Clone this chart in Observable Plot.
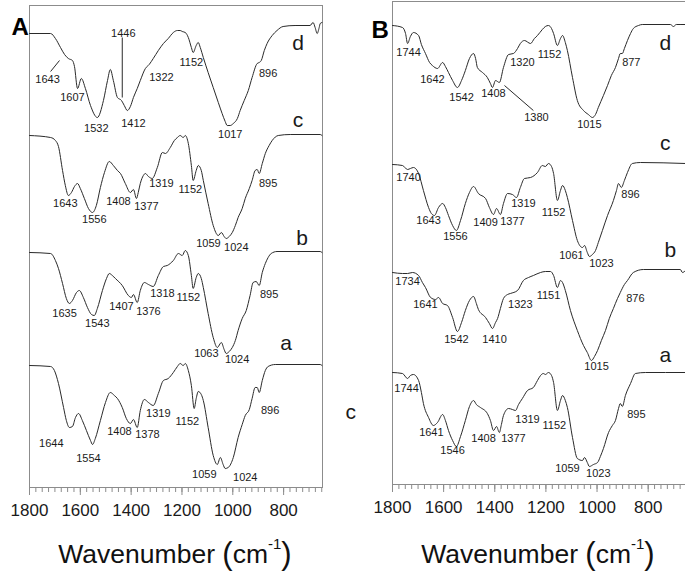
<!DOCTYPE html>
<html><head><meta charset="utf-8">
<script src="https://cdn.jsdelivr.net/npm/d3@7"></script>
<script src="https://cdn.jsdelivr.net/npm/@observablehq/plot@0.6"></script>
<style>
body{margin:0;background:#fff}
#wrap{position:relative;width:685px;height:572px;overflow:hidden;font-family:"Liberation Sans",Arial,sans-serif;color:#111;background:#fff}
.panel{position:absolute;top:0}
.xt{position:absolute;top:540px;font-size:26.5px;line-height:26.5px;text-align:center;white-space:nowrap}
.xt .p{font-size:31px;line-height:26px;position:relative;top:1px}
.xt .s{font-size:15px;line-height:15px;position:relative;top:-14px}
</style></head><body>
<div id="wrap">
  <div id="pa" class="panel" style="left:0"></div>
  <div id="pb" class="panel" style="left:340px"></div>
  <div class="xt" style="left:0;width:350px">Wavenumber <span class="p">(</span>cm<span class="s">-1</span><span class="p">)</span></div>
  <div class="xt" style="left:400px;width:276px">Wavenumber <span class="p">(</span>cm<span class="s">-1</span><span class="p">)</span></div>
</div>
<script>
// x ticks (cm-1)
const majorTicks = [1800, 1600, 1400, 1200, 1000, 800];
const minorTicks = [1775,1750,1725,1700,1675,1650,1625,1600,1575,1550,1525,1500,1475,1450,1425,1400,1375,1350,1325,1300,1275,1250,1225,1200,1175,1150,1125,1100,1075,1050,1025,1000,975,950,925,900,875,850,825,800,775,750,725,700,675,650];

// Panel A spectra: [wavenumber, transmittance (a.u., offset)]
const A_d = [[1800,454],[1717,454],[1698,449],[1678,440],[1662,433],[1647,429],[1631,427],[1623,421],[1611,399],[1596,409],[1580,399],[1560,382],[1533,370],[1509,387],[1493,407],[1482,418],[1470,407],[1454,390],[1438,387],[1427,382],[1415,377],[1403,381],[1391,390],[1376,399],[1364,407],[1344,419],[1329,423],[1313,429],[1293,437],[1273,444],[1254,449],[1234,455],[1218,457],[1207,457],[1199,456],[1187,455],[1175,450],[1163,440],[1156,435],[1144,442],[1136,445],[1128,440],[1116,430],[1097,415],[1077,400],[1057,385],[1042,374],[1030,366],[1022,362],[1010,362],[998,364],[982,369],[971,377],[955,387],[939,397],[924,410],[904,424],[896,425],[888,427],[876,437],[865,444],[845,452],[826,457],[802,461],[755,462],[696,462],[684,465],[676,460],[668,454],[660,460],[656,464],[649,465]];
const A_c = [[1800,352],[1717,350],[1698,347],[1686,341],[1670,317],[1659,302],[1647,292],[1635,295],[1623,301],[1611,304],[1600,299],[1584,289],[1568,279],[1552,275],[1537,282],[1521,300],[1505,315],[1486,326],[1470,322],[1454,317],[1442,314],[1423,304],[1403,295],[1391,298],[1379,289],[1372,295],[1364,304],[1352,312],[1344,314],[1332,311],[1317,309],[1297,320],[1277,335],[1265,334],[1246,340],[1230,347],[1218,350],[1207,352],[1195,350],[1187,352],[1175,344],[1163,322],[1156,307],[1144,317],[1136,322],[1124,317],[1116,307],[1097,284],[1077,262],[1057,252],[1045,255],[1034,251],[1026,249],[1014,251],[1002,255],[990,262],[979,270],[963,279],[951,289],[935,299],[924,307],[912,317],[904,318],[896,314],[884,324],[872,334],[857,342],[845,347],[821,352],[774,353],[656,353],[649,352]];
const A_b = [[1800,235],[1717,234],[1698,227],[1686,219],[1670,204],[1655,189],[1643,184],[1631,187],[1615,195],[1604,197],[1588,190],[1572,180],[1556,173],[1545,172],[1533,179],[1513,197],[1497,209],[1486,214],[1474,212],[1462,209],[1435,202],[1411,192],[1399,190],[1391,193],[1376,185],[1364,197],[1348,205],[1332,203],[1313,201],[1293,212],[1273,221],[1258,222],[1234,227],[1214,234],[1199,232],[1187,237],[1175,232],[1163,212],[1156,199],[1144,210],[1136,214],[1124,209],[1116,200],[1097,174],[1077,150],[1061,140],[1045,145],[1034,138],[1026,134],[1014,136],[1002,140],[990,147],[979,157],[963,169],[947,177],[932,192],[920,205],[908,206],[896,202],[884,215],[872,224],[861,230],[849,234],[826,236],[656,236],[649,235]];
const A_a = [[1800,122],[1717,121],[1702,117],[1686,104],[1666,80],[1655,67],[1643,60],[1631,61],[1619,70],[1607,74],[1592,67],[1576,57],[1560,47],[1552,43],[1541,49],[1521,67],[1501,85],[1482,95],[1466,92],[1454,89],[1435,80],[1419,69],[1403,64],[1391,68],[1376,60],[1364,77],[1348,88],[1332,85],[1313,82],[1293,94],[1273,107],[1254,109],[1234,115],[1218,121],[1207,124],[1195,122],[1187,124],[1175,117],[1163,102],[1152,79],[1144,89],[1136,96],[1124,93],[1116,87],[1097,60],[1077,32],[1061,23],[1049,30],[1038,23],[1030,19],[1018,20],[998,30],[979,50],[963,63],[951,72],[935,78],[924,89],[912,100],[904,100],[896,95],[884,107],[872,117],[861,121],[833,123],[656,123],[649,122]];

// Panel B spectra
const B_d = [[1800,459],[1761,457],[1749,451],[1741,441],[1730,448],[1718,452],[1698,449],[1687,440],[1671,431],[1655,422],[1644,419],[1624,416],[1604,422],[1593,418],[1581,412],[1565,404],[1546,397],[1530,404],[1515,414],[1499,426],[1483,431],[1475,426],[1468,417],[1448,412],[1429,407],[1417,401],[1409,397],[1397,404],[1382,402],[1366,417],[1346,430],[1327,431],[1311,436],[1300,441],[1284,444],[1260,441],[1245,446],[1233,449],[1214,455],[1202,458],[1190,459],[1178,456],[1170,451],[1155,439],[1143,446],[1135,449],[1124,442],[1116,434],[1096,407],[1077,384],[1053,374],[1034,370],[1018,367],[1006,370],[995,377],[975,389],[959,399],[944,409],[928,417],[916,426],[909,431],[901,431],[893,436],[881,444],[869,451],[858,456],[838,459],[823,460],[713,460],[701,458],[690,460],[654,460]];
const B_c = [[1800,320],[1761,319],[1741,315],[1730,316],[1718,317],[1698,311],[1679,294],[1659,277],[1648,271],[1636,269],[1620,277],[1604,281],[1593,277],[1581,269],[1565,259],[1550,254],[1534,264],[1515,281],[1499,292],[1483,298],[1464,291],[1436,286],[1421,277],[1405,270],[1393,276],[1378,270],[1366,281],[1350,291],[1331,290],[1315,287],[1300,297],[1284,306],[1260,307],[1233,312],[1214,319],[1202,318],[1190,321],[1178,318],[1170,311],[1155,284],[1143,294],[1135,299],[1124,294],[1116,287],[1096,264],[1077,244],[1057,237],[1049,239],[1038,232],[1030,228],[1018,230],[1006,234],[995,242],[979,254],[959,269],[936,284],[924,294],[916,301],[905,297],[893,304],[881,312],[862,321],[830,322],[654,321]];
const B_b = [[1800,212],[1761,211],[1741,211],[1722,212],[1698,209],[1683,202],[1671,197],[1651,187],[1632,185],[1620,187],[1604,181],[1585,179],[1565,167],[1546,153],[1530,162],[1515,174],[1499,184],[1483,188],[1472,181],[1464,175],[1436,167],[1421,161],[1409,156],[1397,162],[1389,166],[1378,176],[1366,186],[1350,190],[1339,191],[1311,194],[1288,204],[1268,207],[1249,209],[1221,212],[1202,213],[1182,213],[1170,209],[1155,197],[1143,204],[1135,202],[1124,194],[1104,174],[1077,154],[1053,139],[1038,132],[1022,124],[1010,128],[998,134],[983,144],[967,154],[952,166],[936,176],[920,186],[909,192],[893,200],[881,204],[858,212],[819,215],[674,215],[666,212],[654,214]];
const B_a = [[1800,112],[1761,111],[1741,106],[1730,109],[1718,110],[1698,104],[1687,92],[1679,81],[1659,67],[1640,59],[1624,62],[1604,70],[1593,64],[1581,54],[1565,44],[1550,38],[1534,48],[1515,64],[1499,78],[1483,84],[1472,80],[1456,77],[1429,71],[1417,64],[1405,54],[1393,58],[1382,52],[1374,60],[1366,69],[1346,76],[1331,75],[1319,74],[1307,80],[1292,86],[1272,94],[1249,97],[1233,104],[1221,109],[1210,111],[1202,110],[1190,112],[1178,109],[1170,102],[1155,74],[1143,84],[1135,89],[1124,84],[1116,77],[1096,47],[1077,26],[1057,24],[1049,27],[1038,22],[1030,18],[1014,20],[998,22],[987,28],[975,36],[955,52],[940,59],[928,64],[916,76],[909,81],[901,78],[889,89],[869,101],[850,111],[811,112],[654,112]];

// Peak labels [text, wavenumber, y]
const A_peaks = [
  ["1643",1729,408],["1607",1631,390],["1532",1537,359],["1446",1431,454],["1412",1391,364],["1322",1281,410],["1152",1163,425],["1017",1010,353],["896",861,414],
  ["1643",1659,284],["1556",1545,268],["1408",1450,286],["1377",1340,281],["1319",1281,304],["1152",1167,298],["1059",1096,244],["1024",986,240],["895",861,304],
  ["1635",1662,174],["1543",1533,164],["1407",1438,181],["1376",1332,176],["1318",1277,194],["1152",1175,190],["1063",1104,134],["1024",983,128],["895",857,193],
  ["1644",1714,44],["1554",1568,29],["1408",1446,56],["1378",1336,53],["1319",1293,74],["1152",1179,66],["1059",1112,13],["1024",951,10],["896",853,77]
];
const B_peaks = [
  ["1744",1737,432],["1642",1644,405],["1542",1530,387],["1408",1405,391],["1320",1292,422],["1152",1186,430],["1380",1237,367],["1015",1030,360],["877",866,422],
  ["1740",1737,307],["1643",1659,264],["1556",1554,248],["1409",1436,262],["1377",1331,263],["1319",1288,281],["1152",1170,272],["1061",1100,229],["1023",983,221],["896",869,290],
  ["1734",1741,203],["1641",1671,180],["1542",1550,145],["1410",1401,145],["1323",1300,180],["1151",1190,189],["876",850,186],["1015",1002,118],
  ["1744",1745,96],["1641",1648,52],["1546",1565,34],["1408",1444,46],["1377",1327,46],["1319",1272,65],["1152",1167,59],["1059",1116,16],["1023",995,11],["895",846,70]
];
// Trace letters
const A_traces = [["d",743,444],["c",743,367],["b",727,249],["a",790,144]];
const B_traces = [["d",733,441],["c",733,341],["b",713,234],["a",733,129]];
// Leader lines [x1,y1,x2,y2]
const A_leaders = [[1717,416,1682,427],[1435,450,1435,390]];
const B_leaders = [[1362,399,1249,374]];

const FONT = '"Liberation Sans", Arial, sans-serif';
const INK = "#1a1a1a";

function panel(cfg) {
  const lines = cfg.spectra.map(s => Plot.line(s, {x: d => d[0], y: d => d[1], curve: "monotone-x", stroke: "#2a2a2a", strokeWidth: 1}));
  return Plot.plot({
    width: cfg.width, height: 525,
    marginLeft: cfg.ml, marginRight: cfg.mr, marginTop: cfg.mt, marginBottom: cfg.mb,
    style: {fontFamily: FONT, background: "transparent", overflow: "visible"},
    x: {domain: cfg.xdom, axis: null},
    y: {domain: cfg.ydom, axis: null},
    marks: [
      Plot.frame({stroke: "#8c8c8c"}),
      Plot.axisX({ticks: minorTicks, tickSize: 5, tickFormat: () => "", label: null, stroke: "#8c8c8c"}),
      Plot.axisX({ticks: majorTicks, tickSize: 8, tickPadding: 8, fontSize: 17, tickFormat: d => String(d), label: null, stroke: "#8c8c8c", fill: INK}),
      ...lines,
      Plot.link(cfg.leaders, {x1: d => d[0], y1: d => d[1], x2: d => d[2], y2: d => d[3], stroke: "#2a2a2a", strokeWidth: 1}),
      Plot.text(cfg.peaks, {x: d => d[1], y: d => d[2], text: d => d[0], fontSize: 11, fill: INK}),
      Plot.text(cfg.traces, {x: d => d[1], y: d => d[2], text: d => d[0], fontSize: 21, fill: INK}),
      Plot.text([cfg.letter], {frameAnchor: "top-left", dx: cfg.ldx, dy: cfg.ldy, fontSize: 24, fontWeight: "bold", fill: "#000"}),
      ...(cfg.extra || [])
    ]
  });
}

document.getElementById("pa").appendChild(panel({
  width: 340, ml: 29, mr: 18, mt: 5, mb: 38, xdom: [1800, 647], ydom: [0, 482],
  spectra: [A_d, A_c, A_b, A_a], peaks: A_peaks, traces: A_traces, leaders: A_leaders,
  letter: "A", ldx: -18, ldy: 12
}));
document.getElementById("pb").appendChild(panel({
  width: 345, ml: 52, mr: 0, mt: 1, mb: 41, xdom: [1800, 654], ydom: [0, 483],
  spectra: [B_d, B_c, B_b, B_a], peaks: B_peaks, traces: B_traces, leaders: B_leaders,
  letter: "B", ldx: -21, ldy: 19,
  extra: [Plot.text(["c"], {frameAnchor: "left", y: [72], dx: -47, fontSize: 21, fill: INK})]
}));
</script>
</body></html>
